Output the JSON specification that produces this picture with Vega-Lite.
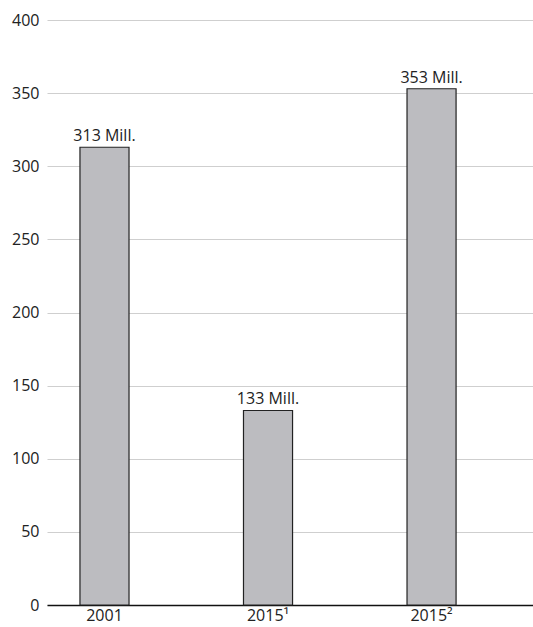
{
  "$schema": "https://vega.github.io/schema/vega-lite/v6.json",
  "width": 486,
  "height": 585,
  "autosize": {"type": "none"},
  "padding": {"left": 47, "top": 20, "right": 0, "bottom": 22},
  "background": "white",
  "config": {
    "view": {"stroke": null},
    "font": "Open Sans",
    "axis": {"labelFont": "Open Sans", "labelFontSize": 16, "labelColor": "#222"}
  },
  "data": {
    "values": [
      {"jahr": "2001", "wert": 313, "label": "313 Mill."},
      {"jahr": "2015¹", "wert": 133, "label": "133 Mill."},
      {"jahr": "2015²", "wert": 353, "label": "353 Mill."}
    ]
  },
  "encoding": {
    "x": {
      "field": "jahr",
      "type": "nominal",
      "sort": null,
      "scale": {"paddingInner": 0.7, "paddingOuter": 0.336, "align": 0.3},
      "axis": {
        "title": null,
        "labelAngle": 0,
        "ticks": false,
        "domain": true,
        "domainColor": "#111",
        "domainWidth": 1.3,
        "labelPadding": 2,
        "grid": false
      }
    },
    "y": {
      "field": "wert",
      "type": "quantitative",
      "scale": {"domain": [0, 400], "nice": false},
      "axis": {
        "title": null,
        "values": [0, 50, 100, 150, 200, 250, 300, 350, 400],
        "ticks": false,
        "domain": false,
        "grid": true,
        "gridColor": "#cfcfcf",
        "gridWidth": 1,
        "labelPadding": 8
      }
    }
  },
  "layer": [
    {
      "mark": {"type": "bar", "fill": "#bcbcc0", "stroke": "#222", "strokeWidth": 1.2}
    },
    {
      "mark": {"type": "text", "baseline": "bottom", "dy": -3, "fontSize": 16, "color": "#222"},
      "encoding": {"text": {"field": "label"}}
    }
  ]
}
